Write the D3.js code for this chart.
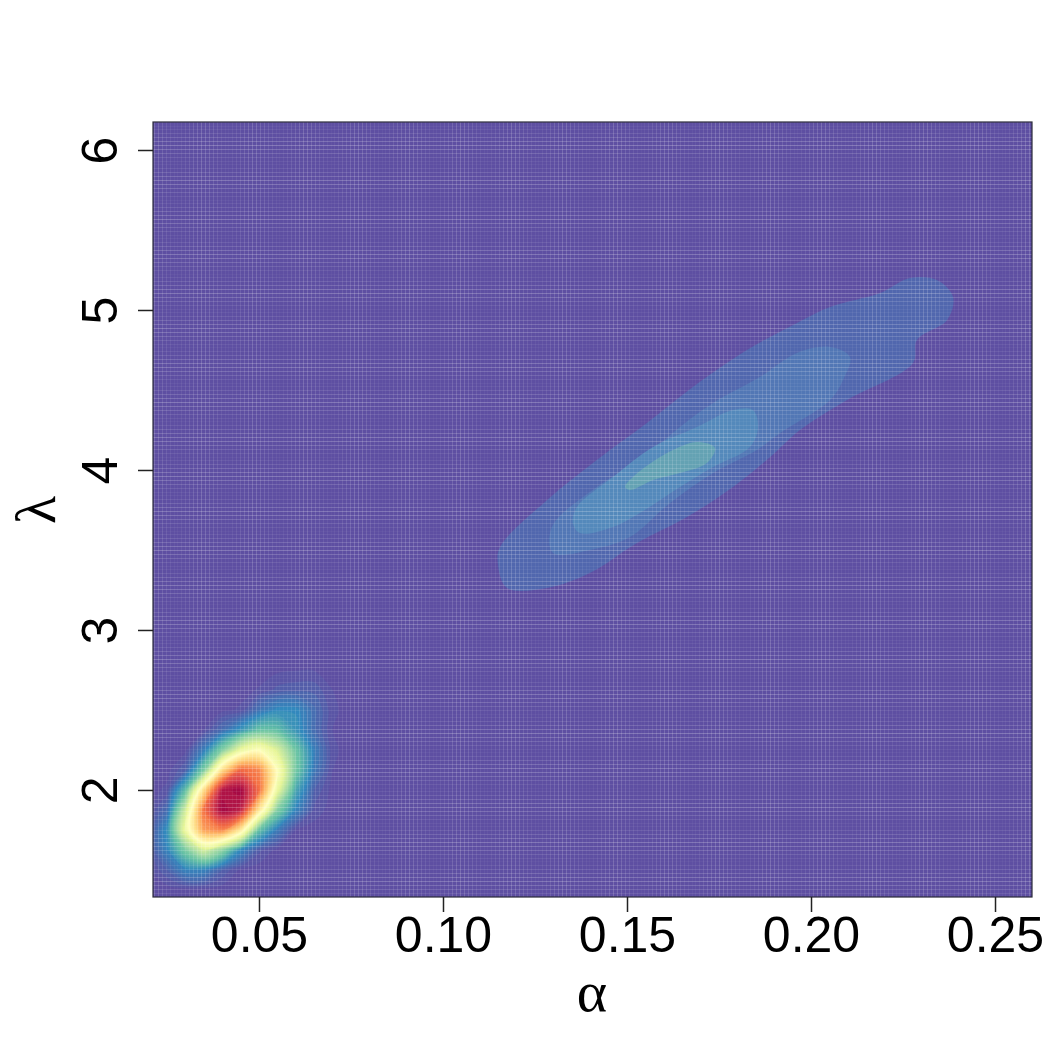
<!DOCTYPE html>
<html>
<head>
<meta charset="utf-8">
<script src="https://cdn.jsdelivr.net/npm/d3@7"></script>
<style>html,body{margin:0;padding:0;background:#fff}svg{display:block}</style>
</head>
<body>
<svg id="chart" width="1050" height="1050"></svg>
<script>
// ---- data ----
const alphaTicks = [0.05, 0.10, 0.15, 0.20, 0.25];
const lambdaTicks = [2, 3, 4, 5, 6];
const alphaDomain = [0.0212, 0.26005];
const lambdaDomain = [1.331, 6.175];
const palette = ["#5E4FA2","#3288BD","#66C2A5","#ABDDA4","#E6F598","#FFFFBF","#FEE08B","#FDAE61","#F46D43","#D53E4F","#9E0142"];

// lower-left mode: density (0-100) on a grid, alpha 0.020..0.075 step 0.005, lambda 1.25..2.875 step 0.125
const modeAlpha0 = 0.020, modeAlphaStep = 0.005, modeLambda0 = 1.25, modeLambdaStep = 0.125;
const modeDensity = [
 [0,0,0,0,0,0,0,0,0,0,0,0],
 [0,0,0.2,0.2,0,0,0,0,0,0,0,0],
 [0.4,4,10,10,4,0.6,0,0,0,0,0,0],
 [1.5,10,24,38,27,11,3,0.4,0,0,0,0],
 [1.5,12,44,73,77,58,21,8.5,1,0.2,0,0],
 [0.3,6,37,80,100,95,59,25,10,2,0.2,0],
 [0,1.5,20,61,97,100,81,43,16,4,0.3,0],
 [0,0.2,4,24,61,82,77,50,23,8,1,0],
 [0,0,0.5,9,25,43,50,39,22,9,1.5,0],
 [0,0,0,1,6,13,21,20,13,6,1,0],
 [0,0,0,0,0.5,1.3,7,11,11,6,1.5,0],
 [0,0,0,0,0,0.3,1.2,3,3.5,3.5,1,0],
 [0,0,0,0,0,0,0,0.6,0.9,0.9,0.3,0],
 [0,0,0,0,0,0,0,0,0,0,0,0]
];

// upper ridge: stepped density levels, outlines in (alpha, lambda)
const ridgeLevelColours = ["#5167AE","#5277B5","#5489BB","#64A2B3"];
const ridgeLevel1 = [[.1149,3.419],[.1155,3.519],[.1283,3.813],[.1418,4.063],[.1554,4.294],[.1679,4.519],[.1826,4.75],[.1962,4.919],[.2052,5.019],[.2188,5.106],[.2269,5.2],[.2342,5.188],[.2386,5.081],[.2370,4.938],[.2288,4.813],[.2277,4.669],[.2098,4.438],[.1970,4.25],[.1889,4.081],[.1788,3.894],[.1663,3.706],[.1527,3.544],[.1399,3.356],[.1283,3.263],[.1174,3.263]];
const ridgeLevel2 = [[.1296,3.644],[.1418,3.894],[.1535,4.063],[.1644,4.269],[.1734,4.419],[.1861,4.581],[.1962,4.731],[.2052,4.769],[.2106,4.706],[.2087,4.563],[.2052,4.438],[.1916,4.231],[.1853,4.125],[.1734,3.981],[.1617,3.794],[.1508,3.581],[.1399,3.5],[.1299,3.481]];
const ridgeLevel3 = [[.1353,3.669],[.1364,3.769],[.1462,3.956],[.1571,4.144],[.1690,4.269],[.1788,4.375],[.1842,4.375],[.1856,4.269],[.1834,4.144],[.1734,4.019],[.1644,3.894],[.1535,3.731],[.1462,3.644],[.1372,3.606]];
const ridgeLevel4 = [[.1495,3.894],[.1516,3.956],[.1609,4.106],[.1690,4.175],[.1739,4.138],[.1717,4.044],[.1644,3.981],[.1571,3.938],[.1508,3.875]];

// ---- drawing ----
const plot = {left:153, right:1032, top:122, bottom:897};
const svg = d3.select("#chart");
const x = d3.scaleLinear().domain(alphaDomain).range([plot.left, plot.right]);
const y = d3.scaleLinear().domain(lambdaDomain).range([plot.bottom, plot.top]);
const colour = d3.scaleLinear().domain(palette.map((_, i) => i * 10)).range(palette).interpolate(d3.interpolateRgb);

svg.append("defs").append("clipPath").attr("id","plotClip").append("rect")
  .attr("x",plot.left).attr("y",plot.top).attr("width",plot.right-plot.left).attr("height",plot.bottom-plot.top);

const g = svg.append("g").attr("clip-path","url(#plotClip)");
g.append("rect").attr("x",plot.left).attr("y",plot.top).attr("width",plot.right-plot.left).attr("height",plot.bottom-plot.top)
  .attr("fill",colour(0));

// ridge
const ring = d3.line().x(d => x(d[0])).y(d => y(d[1])).curve(d3.curveCatmullRomClosed.alpha(0.5));
[ridgeLevel1, ridgeLevel2, ridgeLevel3, ridgeLevel4].forEach((outline, i) => {
  g.append("path").attr("d", ring(outline)).attr("fill", ridgeLevelColours[i]);
});

// mode
const nCols = modeDensity[0].length, nRows = modeDensity.length;
const thresholds = d3.range(1, 100, 1.5);
const contours = d3.contours().size([nCols, nRows]).smooth(true).thresholds(thresholds)(modeDensity.flat());
const toData = p => [modeAlpha0 + (p[0] - 0.5) * modeAlphaStep, modeLambda0 + (p[1] - 0.5) * modeLambdaStep];
g.selectAll("path.mode").data(contours).join("path").attr("class","mode")
  .attr("d", d => d.coordinates.flatMap(poly => poly.map(r => ring(r.slice(0, -1).map(toData)))).join(""))
  .attr("fill", d => colour(d.value));

// seams between the image cells: they beat against the pixel grid
const colPitch = 3.924, rowPitch = 3.894, colAnchor = 460, rowAnchor = 145;
const seamPositions = (lo, hi, anchor, pitch) => {
  const out = [];
  for (let p = anchor - Math.ceil((anchor - lo) / pitch) * pitch; p <= hi; p += pitch) out.push(p - anchor);
  return out;
};
const alignment = off => 1 - 2 * Math.abs(off - Math.round(off));
g.selectAll("line.col").data(seamPositions(plot.left, plot.right, colAnchor, colPitch)).join("line").attr("class","col")
  .attr("x1", d => Math.round(colAnchor + d) + 0.5).attr("x2", d => Math.round(colAnchor + d) + 0.5)
  .attr("y1", plot.top).attr("y2", plot.bottom)
  .attr("stroke","#fff").attr("stroke-opacity", d => 0.03 + 0.15 * alignment(d));
g.selectAll("line.row").data(seamPositions(plot.top, plot.bottom, rowAnchor, rowPitch)).join("line").attr("class","row")
  .attr("y1", d => Math.round(rowAnchor + d) + 0.5).attr("y2", d => Math.round(rowAnchor + d) + 0.5)
  .attr("x1", plot.left).attr("x2", plot.right)
  .attr("stroke","#fff").attr("stroke-opacity", d => 0.03 + 0.2 * alignment(d));

// box
svg.append("rect").attr("x",plot.left).attr("y",plot.top).attr("width",plot.right-plot.left).attr("height",plot.bottom-plot.top)
  .attr("fill","none").attr("stroke","#2b2b3a").attr("stroke-width",1.2);

// axes
const font = "'Liberation Sans', Arial, sans-serif";
const xAxis = svg.append("g").attr("transform",`translate(0,${plot.bottom})`)
  .call(d3.axisBottom(x).tickValues(alphaTicks).tickFormat(d3.format(".2f")).tickSize(15).tickSizeOuter(0));
xAxis.select(".domain").remove();
xAxis.selectAll("line").attr("stroke","#222").attr("stroke-width",1.5);
xAxis.selectAll("text").attr("y",55).attr("dy",0).attr("font-size",50).attr("font-family",font).attr("fill","#000");

const yAxis = svg.append("g").attr("transform",`translate(${plot.left},0)`)
  .call(d3.axisLeft(y).tickValues(lambdaTicks).tickFormat(d3.format("d")).tickSize(15).tickSizeOuter(0));
yAxis.select(".domain").remove();
yAxis.selectAll("line").attr("stroke","#222").attr("stroke-width",1.5);
yAxis.selectAll("text").attr("x",null).attr("y",null).attr("dy",0).attr("text-anchor","middle")
  .attr("transform","translate(-36,0) rotate(-90)")
  .attr("font-size",50).attr("font-family",font).attr("fill","#000");

const serif = "'Liberation Serif', 'Times New Roman', serif";
svg.append("text").attr("x",592).attr("y",1011).attr("text-anchor","middle")
  .attr("font-size",58).attr("font-family",serif).attr("fill","#000").text("α");
svg.append("text").attr("transform","translate(55,510) rotate(-90)").attr("text-anchor","middle")
  .attr("font-size",58).attr("font-family",serif).attr("fill","#000").text("λ");
</script>
</body>
</html>
